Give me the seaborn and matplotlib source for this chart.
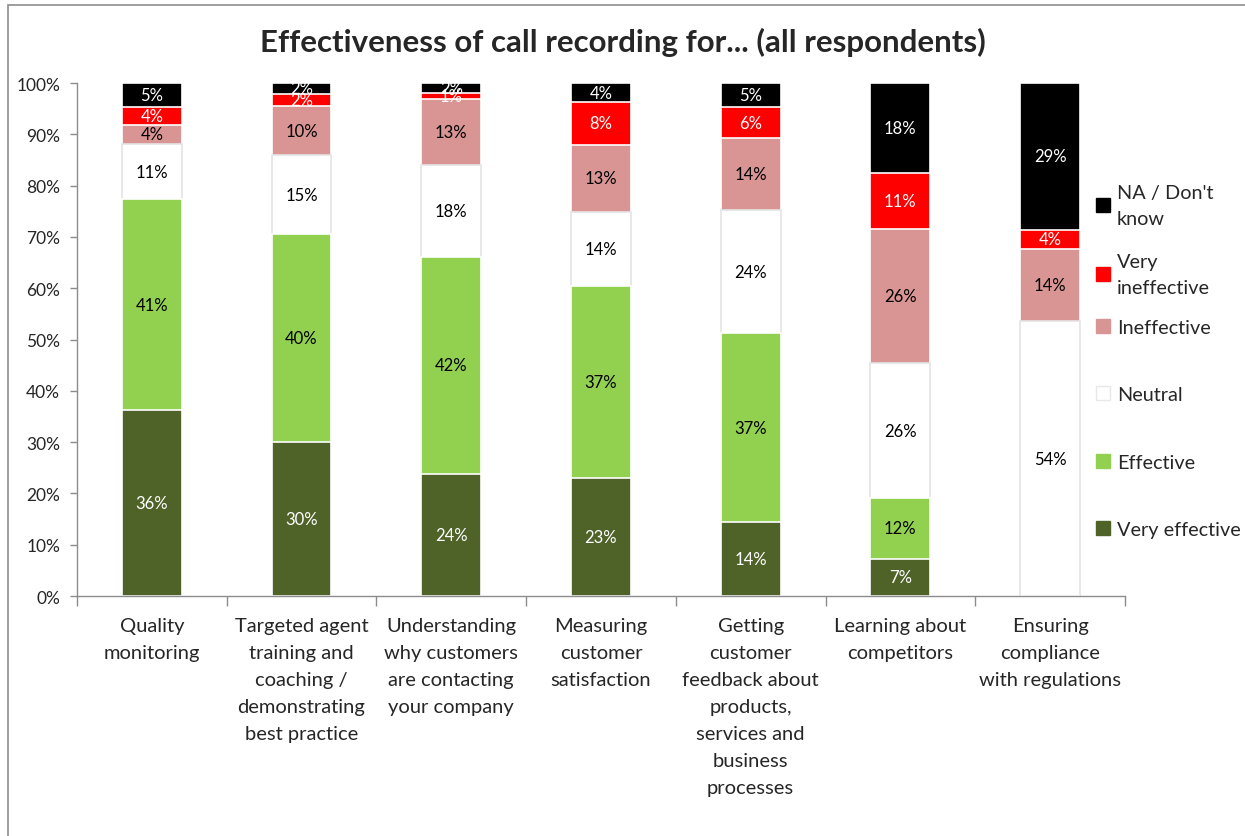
import numpy as np
import pandas as pd
import matplotlib
matplotlib.use('Agg')
import matplotlib.pyplot as plt
from matplotlib.patches import Patch, Rectangle
import seaborn as sns

# --- data (percent of respondents) ---
CATEGORIES = ['Quality\nmonitoring',
              'Targeted agent\ntraining and\ncoaching /\ndemonstrating\nbest practice',
              'Understanding\nwhy customers\nare contacting\nyour company',
              'Measuring\ncustomer\nsatisfaction',
              'Getting\ncustomer\nfeedback about\nproducts,\nservices and\nbusiness\nprocesses',
              'Learning about\ncompetitors',
              'Ensuring\ncompliance\nwith regulations']
SERIES = ['Very effective', 'Effective', 'Neutral', 'Ineffective',
          'Very ineffective', "NA / Don't know"]
LEGEND_LABELS = ['Very effective', 'Effective', 'Neutral', 'Ineffective',
                 'Very\nineffective', "NA / Don't\nknow"]
very_effective = [36.3, 30.0, 23.8, 23.0, 14.4, 7.3, 0.0]
effective = [41.0, 40.5, 42.3, 37.4, 36.9, 11.8, 0.0]
neutral = [10.9, 15.4, 17.9, 14.4, 23.9, 26.3, 53.6]
ineffective = [3.6, 9.6, 12.9, 13.2, 14.1, 26.2, 14.1]
very_ineffective = [3.6, 2.4, 1.1, 8.3, 6.0, 10.9, 3.7]
na_dont_know = [4.6, 2.1, 2.0, 3.7, 4.7, 17.5, 28.6]

COLORS = ['#4F6228', '#92D050', '#FFFFFF', '#D99594', '#FF0000', '#000000']
TEXT_COLORS = ['white', 'black', 'black', 'black', 'white', 'white']

sns.set_theme(style='white')
plt.rcParams['font.family'] = ['Lato', 'DejaVu Sans']

df = pd.DataFrame(
    np.array([very_effective, effective, neutral, ineffective,
              very_ineffective, na_dont_know]).T,
    columns=SERIES)
df['cat'] = CATEGORIES
cum = df[SERIES].cumsum(axis=1)

fig = plt.figure(figsize=(12.45, 8.37), dpi=100)
fig.patches.append(Rectangle((0.0064, -0.1), 1.2, 1.0928,
                             transform=fig.transFigure, fill=False,
                             edgecolor='#8c8c8c', linewidth=1.2))
ax = fig.add_axes([0.0618, 0.2867, 0.8418, 0.6129])

# stacked bars: draw cumulative totals from the top series downwards
for i in range(len(SERIES) - 1, -1, -1):
    sns.barplot(x=np.arange(len(CATEGORIES)), y=cum[SERIES[i]].values,
                color=COLORS[i], width=0.4, saturation=1,
                edgecolor='#e4e4e4' if COLORS[i] == '#FFFFFF' else 'white',
                linewidth=1.2, ax=ax, native_scale=True)

# segment labels
for i, s in enumerate(SERIES):
    for j in range(len(CATEGORIES)):
        v = df[s].iloc[j]
        if v < 0.5:
            continue
        mid = cum[s].iloc[j] - v / 2
        ax.text(j, mid, f'{v:.0f}%', ha='center', va='center',
                fontsize=12, color=TEXT_COLORS[i])

ax.set_xlim(-0.5, len(CATEGORIES) - 0.5)
ax.set_ylim(0, 100)
ax.set_yticks(np.arange(0, 101, 10))
ax.set_yticklabels([f'{t}%' for t in range(0, 101, 10)], fontsize=12.5)
ax.set_xticks(np.arange(len(CATEGORIES) + 1) - 0.5)
ax.set_xticklabels([])
ax.set_xticks(np.arange(len(CATEGORIES)), minor=True)
ax.set_xticklabels(CATEGORIES, minor=True, fontsize=14.5, va='top')
ax.tick_params(axis='x', which='major', length=7, width=1, color='#8c8c8c',
               direction='out', bottom=True)
ax.tick_params(axis='x', which='minor', length=0, pad=15)
ax.tick_params(axis='y', length=5, width=1, color='#8c8c8c', direction='out',
               left=True, pad=7)
for lbl in ax.get_xticklabels(minor=True):
    lbl.set_linespacing(1.71)
for side in ['top', 'right']:
    ax.spines[side].set_visible(False)
for side in ['left', 'bottom']:
    ax.spines[side].set_color('#8c8c8c')
    ax.spines[side].set_linewidth(1)
ax.set_xlabel('')
ax.set_ylabel('')

handles = [Patch(facecolor=COLORS[i],
                 edgecolor='#e8e8e8' if COLORS[i] == '#FFFFFF' else COLORS[i],
                 label=LEGEND_LABELS[i])
           for i in range(len(SERIES) - 1, -1, -1)]
leg_kw = dict(loc='upper left', frameon=False, fontsize=14.3,
              handlelength=0.7, handleheight=0.7, handletextpad=0.35,
              borderaxespad=0)
# two-line entries
leg_top = fig.legend(handles=handles[:2], bbox_to_anchor=(0.874, 0.789),
                     labelspacing=1.3, **leg_kw)
for t in leg_top.get_texts():
    t.set_linespacing(1.66)
# single-line entries
fig.legend(handles=handles[2:], bbox_to_anchor=(0.874, 0.627),
           labelspacing=2.53, **leg_kw)

fig.suptitle('Effectiveness of call recording for... (all respondents)',
             fontsize=22.5, fontweight='bold', x=0.5, y=0.949, va='center')

fig.savefig('out.png', dpi=100)
